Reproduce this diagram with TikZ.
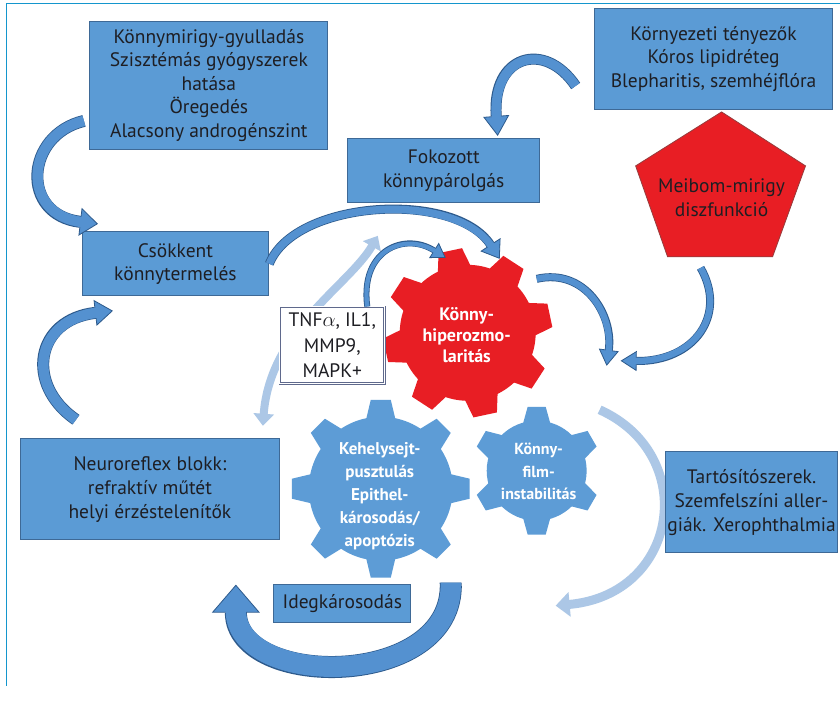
\documentclass[tikz,border=0pt]{standalone}
\usepackage{fontspec}
\setmainfont{PT Sans}
\usepackage{xcolor}
\usetikzlibrary{arrows.meta,positioning}

\definecolor{boxblue}{RGB}{91,155,213}
\definecolor{boxedge}{RGB}{62,105,150}
\definecolor{arrowfill}{RGB}{84,145,208}
\definecolor{arrowedge}{RGB}{45,90,140}
\definecolor{paleblue}{RGB}{172,199,230}
\definecolor{gearblue}{RGB}{93,156,214}
\definecolor{gearred}{RGB}{232,30,36}
\definecolor{pentedge}{RGB}{150,60,60}
\definecolor{inkdark}{RGB}{30,30,35}
\definecolor{tnfedge}{RGB}{95,105,140}
\definecolor{framecyan}{RGB}{20,150,205}

% block arrow: body width, head width, head length, path
\newcommand{\curvedarrow}[4]{%
  \draw[line width=#1, draw=arrowedge, -{Triangle[width=#2,length=#3,line width=0.8pt,fill=arrowfill]}] #4;
  \draw[line width=#1-1.6pt, draw=arrowfill, shorten >=#3-2pt] #4;}

% gear: centre, teeth, body radius, tip radius, turn, tip half width, colour
\newcommand{\gearwheel}[7]{%
  \fill[#7] (#1) circle (#3pt);
  \foreach \k in {1,...,#2}
    \fill[#7, shift={(#1)}, rotate=#5+\k*360/#2] (#3-4,-#6-5) -- (#4,-#6) -- (#4,#6) -- (#3-4,#6+5) -- cycle;}

\begin{document}
\begin{tikzpicture}[x=1pt,y=-1pt]
  \tikzstyle{box}=[draw=boxedge,fill=boxblue,line width=0.9pt,text=inkdark,align=center,inner sep=0pt,font=\fontsize{19.5}{23.5}\selectfont]
  \tikzstyle{gearlabel}=[text=white,align=center,inner sep=0pt,font=\bfseries\fontsize{17}{23}\selectfont]
  \tikzstyle{palearrow}=[line width=9pt,draw=paleblue]

  \fill[white] (0,0) rectangle (840,686);
  \draw[framecyan,line width=1pt] (7,686) -- (7,4) -- (840,4);

  % pale arrows in the back
  \coordinate (p1s) at (263,426);
  \coordinate (p1e) at (378,236);
  \coordinate (p2s) at (600,410);
  \coordinate (p2e) at (556,606);
  \draw[palearrow,line width=8pt,{Triangle[width=20pt,length=12pt]}-{Triangle[width=20pt,length=12pt]}]
    (p1s) .. controls (270,330) and (350,285) .. (p1e);
  \draw[palearrow,-{Triangle[width=24pt,length=14pt]}] (p2s) .. controls (700,455) and (680,595) .. (p2e);

  % gears
  \coordinate (redgc) at (468,333);
  \coordinate (biggc) at (381,489);
  \coordinate (smallgc) at (537,471);
  \gearwheel{redgc}{8}{68}{84}{12}{12}{gearred}
  \gearwheel{biggc}{8}{72}{89}{0}{10}{gearblue}
  \gearwheel{smallgc}{6}{50}{64}{30}{9}{gearblue}
  \node[gearlabel,font=\bfseries\fontsize{18}{21}\selectfont] (osmo) at (467,335) {Könny-\\hiperozmo-\\laritás};
  \node[gearlabel] (goblet) at (380,496) {Kehelysejt-\\pusztulás\\Epithel-\\károsodás/\\apoptózis};
  \node[gearlabel,font=\bfseries\fontsize{16}{22.5}\selectfont] (film) at (539,472) {Könny-\\film-\\instabilitás};

  % boxes
  \node[box,minimum width=238pt,minimum height=129pt] (causes) at (209,85.5) {Könnymirigy-gyulladás\\Szisztémás gyógyszerek\\hatása\\Öregedés\\Alacsony androgénszint};
  \node[box,minimum width=192pt,minimum height=64pt] (evap) at (444,171) {Fokozott\\könnypárolgás};
  \node[box,minimum width=238pt,minimum height=102pt] (env) at (714,59) {Környezeti tényezők\\Kóros lipidréteg\\Blepharitis, szemhéjflóra};
  \node[box,minimum width=187pt,minimum height=64pt] (prod) at (175.5,264) {Csökkent\\könnytermelés};
  \node[box,minimum width=260pt,minimum height=101pt,font=\fontsize{19.5}{24}\selectfont] (neuro) at (150,489.5) {Neuroreflex blokk:\\refraktív műtét\\helyi érzéstelenítők};
  \node[box,minimum width=137pt,minimum height=38pt] (nerve) at (342.5,604) {Idegkárosodás};
  \node[box,minimum width=172pt,minimum height=101pt,font=\fontsize{19.5}{24}\selectfont] (preserv) at (752,502.5) {Tartósítószerek.\\Szemfelszíni aller-\\giák. Xerophthalmia};
  \node[box,draw=tnfedge,fill=white,double,double distance=1.2pt,line width=0.7pt,minimum width=105pt,minimum height=77pt,font=\fontsize{19.5}{25.5}\selectfont] (tnf) at (332.5,345.5) {TNF$\alpha$, IL1,\\MMP9,\\MAPK+};

  % pentagon
  \draw[fill=gearred,draw=pentedge,line width=0.8pt] (722,112) -- (806,166) -- (773,257) -- (668,257) -- (636,166) -- cycle;
  \node[text=inkdark,align=center,font=\fontsize{19.5}{24}\selectfont] (meibom) at (722,198) {Meibom-mirigy\\diszfunkció};

  % dark arrows
  \coordinate (a1s) at (84,121);
  \coordinate (a1e) at (98,224);
  \coordinate (a2s) at (76,420);
  \coordinate (a2e) at (113,311);
  \coordinate (a3s) at (576,86);
  \coordinate (a3e) at (498,136);
  \coordinate (a4e) at (500,259);
  \coordinate (a5e) at (446,258);
  \coordinate (a6s) at (537,279);
  \coordinate (a6e) at (607,366);
  \coordinate (a7s) at (701,268);
  \coordinate (a7e) at (621,361);
  \coordinate (a10s) at (451,583);
  \coordinate (a10e) at (236,585);
  \curvedarrow{12pt}{28pt}{18pt}{(a1s) .. controls (25,135) and (20,215) .. (a1e)}
  \curvedarrow{12pt}{26pt}{18pt}{(a2s) .. controls (25,385) and (35,320) .. (a2e)}
  \curvedarrow{11pt}{26pt}{20pt}{(a3s) .. controls (545,40) and (492,55) .. (a3e)}
  \curvedarrow{9pt}{24pt}{17pt}{(prod.east) .. controls (295,200) and (455,190) .. (a4e)}
  \curvedarrow{6pt}{18pt}{14pt}{([xshift=35pt]tnf.north) .. controls (360,250) and (405,232) .. (a5e)}
  \curvedarrow{8pt}{20pt}{16pt}{(a6s) .. controls (585,268) and (614,315) .. (a6e)}
  \curvedarrow{8pt}{20pt}{16pt}{(a7s) .. controls (728,315) and (695,362) .. (a7e)}
  \curvedarrow{22pt}{48pt}{28pt}{(a10s) .. controls (455,690) and (236,690) .. (a10e)}
\end{tikzpicture}
\end{document}
